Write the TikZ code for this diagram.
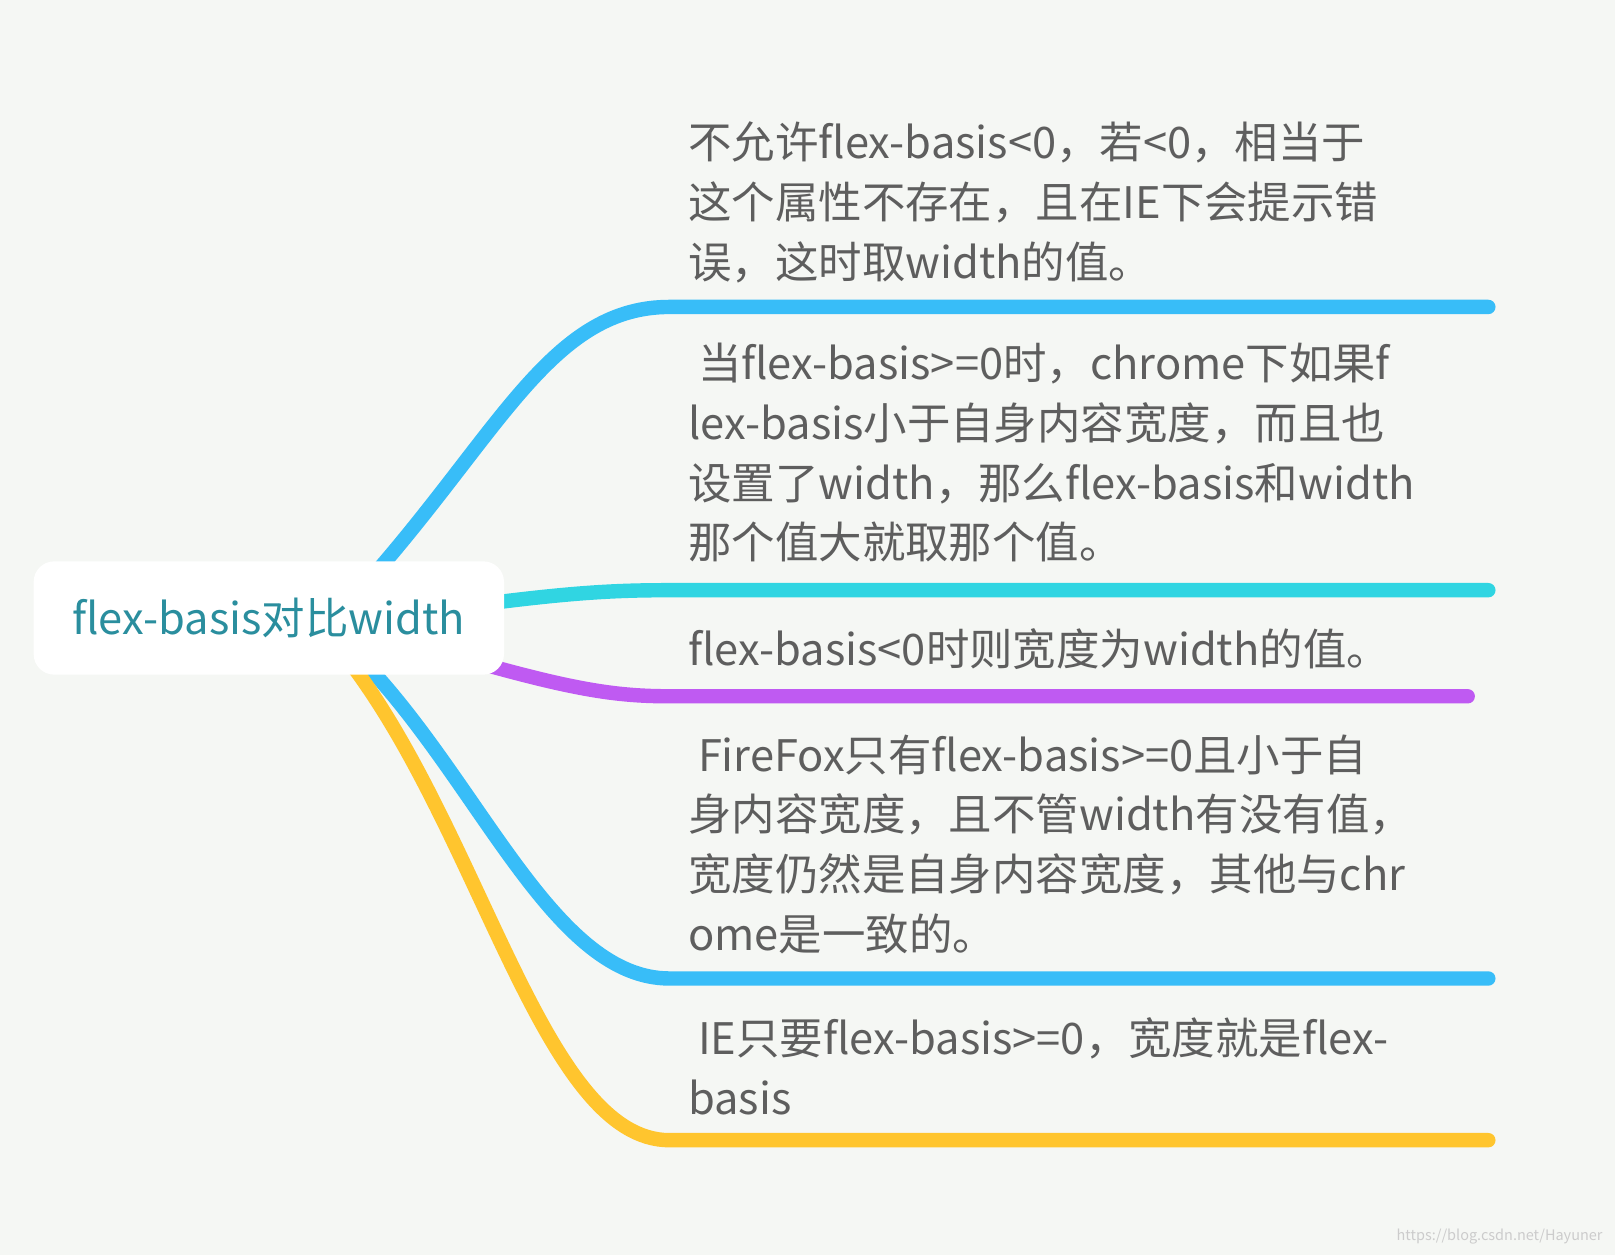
\documentclass[tikz,border=0pt]{standalone}
\usepackage{fontspec}
\setmainfont{Noto Sans CJK SC}
\usetikzlibrary{positioning}
\definecolor{bgc}{HTML}{F5F7F4}
\definecolor{rootc}{HTML}{2A8E9E}
\definecolor{txtc}{HTML}{5E5E5E}
\definecolor{bluec}{HTML}{38BDF8}
\definecolor{cyanc}{HTML}{30D5E2}
\definecolor{purplec}{HTML}{BF5AF2}
\definecolor{yellowc}{HTML}{FFC52E}
\tikzset{
  branch/.style={line width=0.42cm, line cap=round},
  leaf/.style={anchor=north west, inner sep=0pt, align=left, text=txtc,
    font=\fontsize{36}{49.5}\selectfont},
}
\begin{document}
\begin{tikzpicture}[x=0.03cm,y=-0.03cm]
    \fill[bgc] (0,0) rectangle (1568,1218);
    \useasboundingbox (0,0) rectangle (1568,1218);
    % branches
    \coordinate (e1) at (1445,298);
    \coordinate (e2) at (1445,573);
    \coordinate (e3) at (1425,676);
    \coordinate (e4) at (1445,950);
    \coordinate (e5) at (1445,1107);
    \draw[branch,bluec] (370,550) .. controls (490,410) and (540,298) .. (650,298) -- (e1);
    \draw[branch,cyanc] (480,585) .. controls (560,575) and (600,573) .. (650,573) -- (e2);
    \draw[branch,purplec] (470,645) .. controls (560,670) and (600,676) .. (650,676) -- (e3);
    \draw[branch,bluec] (360,650) .. controls (470,770) and (540,950) .. (650,950) -- (e4);
    \draw[branch,yellowc] (345,650) .. controls (470,820) and (530,1107) .. (650,1107) -- (e5);
    % root
    \node[fill=white, rounded corners=0.6cm, minimum width=13.7cm, minimum height=3.3cm,
      text=rootc, font=\fontsize{36}{40}\selectfont] (root) at (261,600) {flex-basis对比width};
    % leaves
    \node[leaf] (l1) at (668,118) {不允许flex-basis<0，若<0，相当于\\这个属性不存在，且在IE下会提示错\\误，这时取width的值。};
    \node[leaf] (l2) at (668,333) {\ 当flex-basis>=0时，chrome下如果f\\lex-basis小于自身内容宽度，而且也\\设置了width，那么flex-basis和width\\那个值大就取那个值。};
    \node[leaf] (l3) at (668,610) {flex-basis<0时则宽度为width的值。};
    \node[leaf] (l4) at (668,713) {\ FireFox只有flex-basis>=0且小于自\\身内容宽度，且不管width有没有值，\\宽度仍然是自身内容宽度，其他与chr\\ome是一致的。};
    \node[leaf] (l5) at (668,988) {\ IE只要flex-basis>=0，宽度就是flex-\\basis};
    \node[anchor=south east, text=black!20, font=\fontsize{12}{14}\selectfont] (mark) at (1560,1212) {https://blog.csdn.net/Hayuner};
\end{tikzpicture}
\end{document}
